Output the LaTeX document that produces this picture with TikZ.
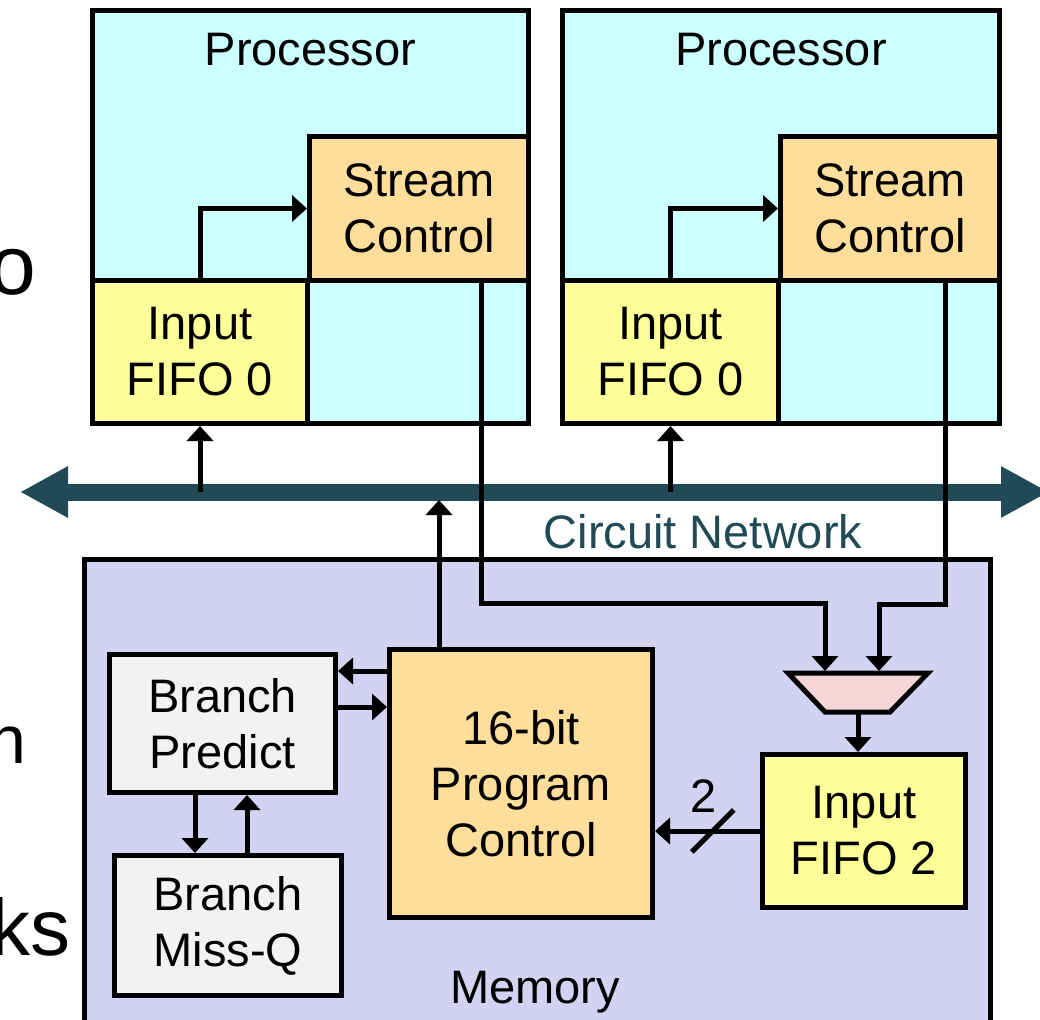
\documentclass[tikz,border=0pt]{standalone}
\usepackage{fontspec}
\setmainfont{Liberation Sans}
\usetikzlibrary{arrows.meta, positioning}

\definecolor{procfill}{RGB}{204,255,255}
\definecolor{ctrlfill}{RGB}{255,222,155}
\definecolor{fifofill}{RGB}{255,255,153}
\definecolor{memfill}{RGB}{210,210,243}
\definecolor{brfill}{RGB}{242,242,242}
\definecolor{muxfill}{RGB}{245,213,213}
\definecolor{busteal}{RGB}{31,74,86}

\begin{document}
\begin{tikzpicture}[
  x=1pt, y=-1pt, >={Triangle[length=15pt,width=26pt]},
  every node/.style={font=\fontsize{47}{56}\selectfont},
  box/.style={
    draw, line width=5pt, align=center, inner sep=0pt, anchor=north west
  },
  procbox/.style={box, fill=procfill, minimum width=436pt, minimum height=413pt},
  ctrlbox/.style={box, fill=ctrlfill, minimum width=219pt, minimum height=144pt},
  fifobox/.style={box, fill=fifofill, minimum height=143pt},
  brbox/.style={box, fill=brfill},
  membox/.style={box, fill=memfill, minimum width=906pt, minimum height=500pt},
  myarrow/.style={->, line width=5pt},
  wire/.style={line width=5pt},
  busarrow/.style={
    {Triangle[length=48pt,width=48pt]}-{Triangle[length=48pt,width=48pt]},
    line width=17pt, draw=busteal
  },
  fragtext/.style={anchor=base east},
]
\useasboundingbox (0,0) rectangle (1040,1019);
% --- Left margin text ---
\node[fragtext, font=\fontsize{84}{100}\selectfont] (fragA) at (40,294) {o};
\node[fragtext, font=\fontsize{68}{80}\selectfont] (fragB) at (30,763) {n};
\node[fragtext, font=\fontsize{80}{96}\selectfont] (fragC) at (74,955) {ks};
% --- Processors ---
\node[procbox] (procA) at (90,8) {};
\node[procbox, minimum width=437pt] (procB) at (560,8) {};
\node[anchor=base] (procAlab) at ([yshift=-58pt]procA.north) {Processor};
\node[anchor=base] (procBlab) at ([yshift=-58pt]procB.north) {Processor};
\node[ctrlbox] (scA) at (307,134) {Stream\\Control};
\node[ctrlbox] (scB) at (778,134) {Stream\\Control};
\node[fifobox, minimum width=215pt] (fifoA) at (90,278) {Input\\FIFO 0};
\node[fifobox, minimum width=216pt] (fifoB) at (560,278) {Input\\FIFO 0};
\draw[myarrow] (fifoA.north) |- (scA.west);
\draw[myarrow] (fifoB.north) |- (scB.west);
% --- Circuit network ---
\coordinate (busL) at (20,492);
\coordinate (busR) at (1049,492);
\draw[busarrow] (busL) -- (busR);
\node[anchor=base, text=busteal] (netlab) at (703,548) {Circuit Network};
\draw[myarrow] (fifoA.south |- busL) -- (fifoA.south);
\draw[myarrow] (fifoB.south |- busL) -- (fifoB.south);
% --- Memory ---
\node[membox] (mem) at (82,557) {};
\node[anchor=base] (memlab) at (535,1003) {Memory};
\node[box, fill=ctrlfill, minimum width=263pt, minimum height=268pt] (pc) at (387,647)
  {16-bit\\Program\\Control};
\node[brbox, minimum width=226pt, minimum height=138pt] (bp) at (107,652)
  {Branch\\Predict};
\node[brbox, minimum width=227pt, minimum height=140pt] (bmq) at (112,853)
  {Branch\\Miss-Q};
\node[fifobox, minimum width=203pt, minimum height=153pt] (fifoC) at (760,752)
  {Input\\FIFO 2};
% mux
\draw[wire, fill=muxfill] (788,673) -- (928,673) -- (890,712) -- (825,712) -- cycle;
\coordinate (muxA) at (825,671);
\coordinate (muxB) at (879,671);
\coordinate (muxO) at (858,712);
% --- Connections ---
\draw[myarrow] ([xshift=-50pt]scA.south east) -- ++(0,320) -| (muxA);
\draw[myarrow] ([xshift=-57pt]scB.south east) -- ++(0,321) -| (muxB);
\draw[myarrow] (muxO) -- (muxO |- fifoC.north);
\draw[myarrow] (fifoC.west) -- coordinate[pos=0.45] (slash) (pc.east |- fifoC.west);
\draw[wire] ([shift={(-21,21)}]slash) -- ([shift={(21,-21)}]slash);
\node[anchor=base] (buswidth) at ([shift={(-9,-19)}]slash) {2};
\draw[myarrow] ([xshift=52pt]pc.north west) -- ([xshift=52pt, yshift=-8pt]pc.north west |- busL);
\draw[myarrow] ([yshift=-24pt]pc.north west) -- ([yshift=-24pt]pc.north west -| bp.east);
\draw[myarrow] ([yshift=-55pt]bp.north east) -- ([yshift=-55pt]bp.north east -| pc.west);
\draw[myarrow] ([xshift=88pt]bp.south west) -- ([xshift=88pt]bp.south west |- bmq.north);
\draw[myarrow] ([xshift=135pt]bmq.north west) -- ([xshift=135pt]bmq.north west |- bp.south);
\end{tikzpicture}
\end{document}
